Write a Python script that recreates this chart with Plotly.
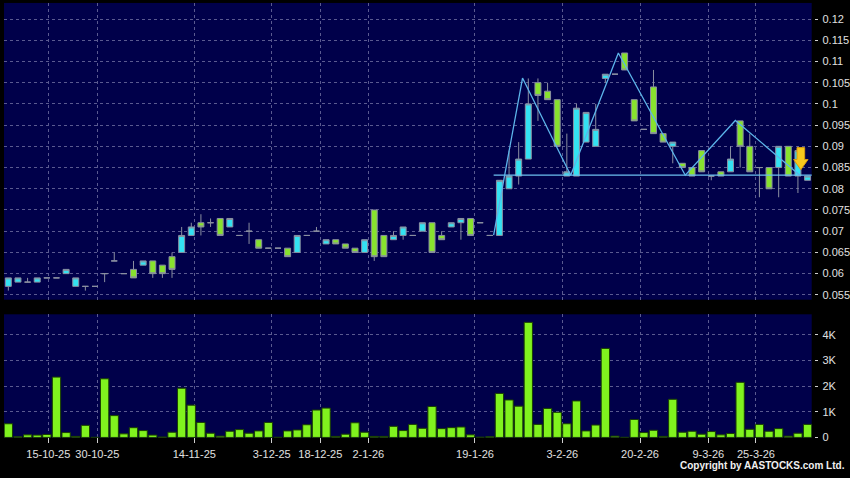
import plotly.graph_objects as go

# ---------------- data ----------------
opens = [0.057, 0.058, 0.058, 0.058, 0.059, 0.059, 0.060, 0.057, 0.057, 0.057,
         0.060, 0.063, 0.060, 0.061, 0.062, 0.063, 0.062, 0.064, 0.065, 0.069,
         0.072, 0.072, 0.073, 0.071, 0.069, 0.070, 0.068, 0.066, 0.066, 0.066,
         0.065, 0.069, 0.070, 0.067, 0.068, 0.067, 0.066, 0.065, 0.075, 0.069,
         0.068, 0.069, 0.069, 0.070, 0.072, 0.069, 0.071, 0.072, 0.073, 0.072,
         0.069, 0.069, 0.080, 0.083, 0.087, 0.105, 0.103, 0.101, 0.083, 0.083,
         0.091, 0.090, 0.106, 0.107, 0.112, 0.101, 0.094, 0.104, 0.093, 0.090,
         0.086, 0.085, 0.089, 0.083, 0.084, 0.084, 0.096, 0.090, 0.085, 0.085,
         0.085, 0.090, 0.083, 0.082]
highs = [0.059, 0.059, 0.059, 0.059, 0.059, 0.059, 0.061, 0.059, 0.057, 0.057,
         0.060, 0.065, 0.060, 0.063, 0.063, 0.063, 0.062, 0.065, 0.071, 0.072,
         0.074, 0.073, 0.073, 0.073, 0.069, 0.072, 0.068, 0.066, 0.066, 0.066,
         0.069, 0.069, 0.071, 0.068, 0.068, 0.067, 0.066, 0.068, 0.075, 0.069,
         0.070, 0.071, 0.069, 0.072, 0.072, 0.070, 0.072, 0.073, 0.073, 0.072,
         0.069, 0.082, 0.089, 0.091, 0.106, 0.106, 0.105, 0.101, 0.093, 0.100,
         0.098, 0.100, 0.107, 0.107, 0.112, 0.101, 0.094, 0.108, 0.093, 0.091,
         0.086, 0.085, 0.089, 0.083, 0.084, 0.090, 0.096, 0.093, 0.085, 0.085,
         0.090, 0.090, 0.090, 0.083]
lows = [0.056, 0.058, 0.058, 0.058, 0.059, 0.059, 0.060, 0.057, 0.056, 0.057,
        0.058, 0.063, 0.060, 0.059, 0.062, 0.059, 0.059, 0.059, 0.065, 0.069,
        0.069, 0.071, 0.069, 0.071, 0.069, 0.067, 0.066, 0.066, 0.066, 0.064,
        0.065, 0.069, 0.070, 0.067, 0.067, 0.066, 0.065, 0.065, 0.063, 0.064,
        0.068, 0.068, 0.069, 0.070, 0.065, 0.068, 0.071, 0.068, 0.069, 0.072,
        0.069, 0.069, 0.080, 0.081, 0.087, 0.096, 0.101, 0.090, 0.083, 0.083,
        0.091, 0.090, 0.105, 0.107, 0.108, 0.096, 0.094, 0.093, 0.091, 0.086,
        0.085, 0.083, 0.084, 0.082, 0.083, 0.084, 0.085, 0.084, 0.078, 0.080,
        0.078, 0.083, 0.079, 0.082]
closes = [0.059, 0.059, 0.058, 0.059, 0.059, 0.059, 0.061, 0.059, 0.057, 0.057,
          0.060, 0.063, 0.060, 0.059, 0.063, 0.060, 0.060, 0.061, 0.069, 0.071,
          0.071, 0.072, 0.069, 0.073, 0.069, 0.070, 0.066, 0.066, 0.066, 0.064,
          0.069, 0.069, 0.070, 0.068, 0.067, 0.066, 0.065, 0.068, 0.064, 0.064,
          0.069, 0.071, 0.069, 0.072, 0.065, 0.068, 0.072, 0.073, 0.069, 0.072,
          0.069, 0.082, 0.083, 0.087, 0.100, 0.102, 0.101, 0.090, 0.084, 0.099,
          0.098, 0.094, 0.107, 0.107, 0.108, 0.096, 0.094, 0.093, 0.091, 0.091,
          0.085, 0.083, 0.084, 0.083, 0.083, 0.087, 0.090, 0.084, 0.085, 0.080,
          0.090, 0.083, 0.089, 0.083]
volumes = [533, 25, 100, 90, 115, 2350, 190, 40, 470, 5,
           2285, 850, 140, 380, 267, 90, 15, 203, 1917, 1257,
           584, 165, 50, 241, 305, 165, 254, 584, 5, 254,
           292, 495, 1067, 1143, 40, 127, 571, 203, 40, 40,
           432, 267, 508, 355, 1206, 343, 381, 406, 100, 10,
           25, 1714, 1460, 1219, 4482, 508, 1130, 978, 533, 1422,
           254, 483, 3467, 50, 5, 698, 190, 279, 40, 1486,
           203, 241, 127, 229, 100, 152, 2146, 317, 508, 241,
           343, 50, 165, 508]

date_tick_pos = [4.15, 9.24, 19.31, 27.35, 32.40, 37.38, 48.46, 57.53, 65.60, 72.69, 77.64]
date_tick_labels = ["15-10-25", "30-10-25", "14-11-25", "3-12-25", "18-12-25", "2-1-26",
                    "19-1-26", "3-2-26", "20-2-26", "9-3-26", "25-3-26"]
price_ticks = [0.055, 0.06, 0.065, 0.07, 0.075, 0.08, 0.085, 0.09, 0.095, 0.1, 0.105, 0.11, 0.115, 0.12]
vol_ticks = [0, 1000, 2000, 3000, 4000]
vol_labels = ["0", "1K", "2K", "3K", "4K"]

zigzag_x = [50.4, 53.4, 58.4, 63.35, 70.3, 75.5, 82.2]
zigzag_y = [0.0691, 0.1061, 0.0832, 0.112, 0.0832, 0.0961, 0.0832]
neckline_x = [50.4, 83.6]
neckline_y = [0.0832, 0.0832]

arrow_x = 82.3
arrow_top, arrow_base, arrow_tip = 0.0897, 0.0869, 0.0845
arrow_shaft, arrow_head = 0.40, 0.75

# ---------------- figure ----------------
x_idx = list(range(len(opens)))
NAVY = "#00004a"
GRID = "#5a5a90"
WICK = "#8a8fa0"
TXT = "#e0e0e0"
FONT = "Liberation Sans, Arial, sans-serif"

fig = go.Figure()

fig.add_trace(go.Candlestick(
    x=x_idx, open=opens, high=highs, low=lows, close=closes,
    increasing=dict(fillcolor="#33e2f2", line=dict(color=WICK, width=1)),
    decreasing=dict(fillcolor="#88e22e", line=dict(color=WICK, width=1)),
    whiskerwidth=0, showlegend=False, xaxis="x", yaxis="y", hoverinfo="skip"))

fig.add_trace(go.Scatter(x=neckline_x, y=neckline_y, mode="lines",
                         line=dict(color="#6cc0f0", width=1.3),
                         showlegend=False, xaxis="x", yaxis="y", hoverinfo="skip"))
fig.add_trace(go.Scatter(x=zigzag_x, y=zigzag_y, mode="lines",
                         line=dict(color="#5cb4ea", width=1.3),
                         showlegend=False, xaxis="x", yaxis="y", hoverinfo="skip"))

ax_pts_x = [arrow_x - arrow_shaft, arrow_x + arrow_shaft, arrow_x + arrow_shaft, arrow_x + arrow_head,
            arrow_x, arrow_x - arrow_head, arrow_x - arrow_shaft, arrow_x - arrow_shaft]
ax_pts_y = [arrow_top, arrow_top, arrow_base, arrow_base, arrow_tip, arrow_base, arrow_base, arrow_top]
fig.add_trace(go.Scatter(x=ax_pts_x, y=ax_pts_y, mode="lines", fill="toself",
                         fillcolor="#f8c81c", line=dict(color="#d89a10", width=1),
                         showlegend=False, xaxis="x", yaxis="y", hoverinfo="skip"))

fig.add_trace(go.Bar(x=x_idx, y=volumes, marker=dict(color="#80f21e", line=dict(color="#1a4000", width=1)),
                     showlegend=False, xaxis="x2", yaxis="y2", hoverinfo="skip"))

W, H = 850, 478
x_dom = [4 / W, 811.7 / W]
price_dom = [(H - 303.5) / H, (H - 3) / H]
vol_dom = [(H - 443) / H, (H - 318.3) / H]
axis_pos = 814.3 / W
x_range = [-0.45, 83.43]

common_x = dict(domain=x_dom, range=x_range, tickvals=date_tick_pos, showgrid=True,
                gridcolor=GRID, griddash="3px,3px", gridwidth=1, zeroline=False,
                showline=False, fixedrange=True)
common_y = dict(side="right", anchor="free", position=axis_pos, showgrid=True,
                gridcolor=GRID, griddash="3px,3px", gridwidth=1, zeroline=False,
                showline=False, ticks="outside", ticklen=3, tickcolor="#cfcfcf",
                ticklabelstandoff=2,
                tickfont=dict(family=FONT, size=11, color=TXT))

fig.update_layout(
    width=W, height=H,
    margin=dict(l=0, r=0, t=0, b=0),
    paper_bgcolor="#000000",
    plot_bgcolor=NAVY,
    bargap=0.14,
    boxgap=0.38,
    boxgroupgap=0,
    font=dict(family=FONT, size=11, color=TXT),
    xaxis=dict(**common_x, anchor="y", showticklabels=False, ticks="",
               rangeslider=dict(visible=False)),
    xaxis2=dict(**common_x, anchor="y2", ticktext=date_tick_labels, ticks="outside",
                ticklen=5, tickcolor="#cfcfcf", ticklabelstandoff=1,
                tickfont=dict(family=FONT, size=11, color=TXT)),
    yaxis=dict(**common_y, domain=price_dom, range=[0.05386, 0.12379],
               tickvals=price_ticks, ticktext=[f"{v:g}" for v in price_ticks]),
    yaxis2=dict(**common_y, domain=vol_dom, range=[0, 4796],
                tickvals=vol_ticks, ticktext=vol_labels),
    annotations=[dict(text="Copyright by AASTOCKS.com Ltd.", xref="paper", yref="paper",
                      x=846 / W, y=0.0, xanchor="right", yanchor="bottom",
                      showarrow=False, borderpad=0,
                      font=dict(family=FONT, size=10, color="#f0f0f0", weight="bold"))],
)

fig.write_html("out.html", config={"displayModeBar": False},
               post_script="document.body.style.margin='0';document.body.style.background='#000';")
